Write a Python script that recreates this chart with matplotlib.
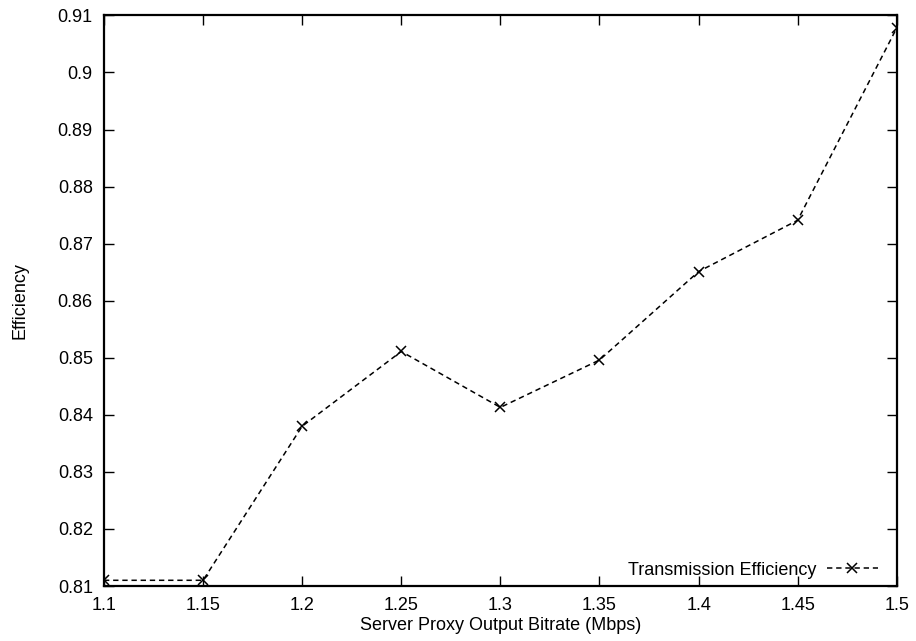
import matplotlib
matplotlib.use("Agg")
import matplotlib.pyplot as plt

plt.rcParams['font.family'] = ['Liberation Sans', 'DejaVu Sans']

bitrate = [1.1, 1.15, 1.2, 1.25, 1.3, 1.35, 1.4, 1.45, 1.5]
efficiency = [0.811, 0.811, 0.838, 0.8511, 0.8413, 0.8496, 0.8651, 0.8741, 0.9078]
xticks = [1.1, 1.15, 1.2, 1.25, 1.3, 1.35, 1.4, 1.45, 1.5]
xtick_labels = ["1.1", "1.15", "1.2", "1.25", "1.3", "1.35", "1.4", "1.45", "1.5"]
yticks = [0.81, 0.82, 0.83, 0.84, 0.85, 0.86, 0.87, 0.88, 0.89, 0.9, 0.91]
ytick_labels = ["0.81", "0.82", "0.83", "0.84", "0.85", "0.86", "0.87", "0.88", "0.89", "0.9", "0.91"]

fig = plt.figure(figsize=(9.16, 6.41), dpi=100)
ax = fig.add_axes([0.1135, 0.0858, 0.8655, 0.8902])

ax.plot(bitrate, efficiency, color="black", linestyle=(0, (3.5, 2.5)), linewidth=1.1,
        marker="x", markersize=6.5, markeredgewidth=1.1,
        label="Transmission Efficiency")

ax.set_xlim(1.1, 1.5)
ax.set_ylim(0.81, 0.91)
ax.set_xticks(xticks)
ax.set_xticklabels(xtick_labels)
ax.set_yticks(yticks)
ax.set_yticklabels(ytick_labels)
ax.tick_params(direction="in", length=7, width=1, top=True, right=True,
               labelsize=13, pad=8)
for s in ax.spines.values():
    s.set_linewidth(1.6)

ax.set_xlabel("Server Proxy Output Bitrate (Mbps)", fontsize=13, labelpad=2)
ax.set_ylabel("Efficiency", fontsize=13, labelpad=21)

ax.legend(loc="lower right", frameon=False, markerfirst=False, fontsize=13,
          handlelength=2.8, handletextpad=0.6, borderaxespad=0.0,
          bbox_to_anchor=(0.985, 0.0))

fig.savefig("out.png", dpi=100)
